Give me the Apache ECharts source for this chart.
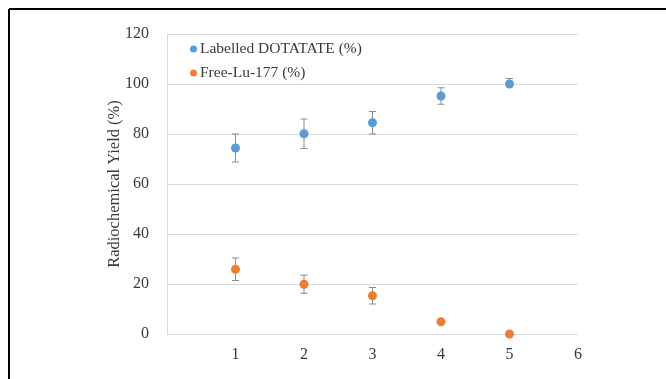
<!DOCTYPE html>
<html>
<head>
<meta charset="utf-8">
<script src="https://cdn.jsdelivr.net/npm/echarts@6/dist/echarts.min.js"></script>
<style>
  html, body { margin: 0; padding: 0; background: #fff; }
  #chart { width: 666px; height: 379px; }
</style>
</head>
<body>
<div id="chart"></div>
<script>
// data
var xValues = [1, 2, 3, 4, 5]
var labelledYield = [74.4, 80.1, 84.5, 95.2, 100]
var labelledErrUp = [5.6, 5.9, 4.5, 3.3, 2.2]
var labelledErrDown = [5.6, 5.9, 4.5, 3.3, 0]
var freeYield = [25.9, 19.9, 15.3, 4.9, 0]
var freeErrUp = [4.5, 3.6, 3.3, 0, 0]
var freeErrDown = [4.5, 3.6, 3.3, 0, 0]
var seriesNames = ['Labelled DOTATATE (%)', 'Free-Lu-177 (%)']
var colors = ['#5B9BD5', '#ED7D31']

var font = 'Liberation Serif'
var textColor = '#3a3a3a'

function points(ys) {
  return xValues.map(function (x, i) { return [x, ys[i]] })
}
function errRows(ys, up, down) {
  return xValues.map(function (x, i) { return [x, ys[i] - down[i], ys[i] + up[i], ys[i]] })
}

// whisker with caps, a cap is only drawn where that side has an error
function renderErr(params, api) {
  var x = api.value(0)
  var lo = api.coord([x, api.value(1)])
  var hi = api.coord([x, api.value(2)])
  var mid = api.coord([x, api.value(3)])
  if (Math.abs(lo[1] - hi[1]) < 1) return null
  var cap = 3.5
  var style = { stroke: '#8c8c8c', lineWidth: 1 }
  var kids = [
    { type: 'line', shape: { x1: lo[0], y1: lo[1], x2: hi[0], y2: hi[1] }, style: style }
  ]
  if (Math.abs(lo[1] - mid[1]) >= 1) {
    kids.push({ type: 'line', shape: { x1: lo[0] - cap, y1: lo[1], x2: lo[0] + cap, y2: lo[1] }, style: style })
  }
  if (Math.abs(hi[1] - mid[1]) >= 1) {
    kids.push({ type: 'line', shape: { x1: hi[0] - cap, y1: hi[1], x2: hi[0] + cap, y2: hi[1] }, style: style })
  }
  return { type: 'group', children: kids }
}

var chart = echarts.init(document.getElementById('chart'))
chart.setOption({
  animation: false,
  textStyle: { fontFamily: font },
  color: colors,
  grid: { left: 167, right: 88, top: 34, bottom: 45 },
  legend: {
    data: seriesNames,
    orient: 'vertical',
    left: 185,
    top: 36,
    itemWidth: 7,
    itemHeight: 7,
    itemGap: 8,
    icon: 'circle',
    textStyle: { fontFamily: font, fontSize: 15.5, color: textColor, padding: [0, 0, 0, -2] }
  },
  xAxis: {
    type: 'value',
    min: 0,
    max: 6,
    interval: 1,
    axisLine: { show: false },
    axisTick: { show: false },
    splitLine: { show: false },
    axisLabel: {
      fontFamily: font,
      fontSize: 16,
      color: textColor,
      margin: 13,
      formatter: function (v) { return v === 0 ? '' : v }
    }
  },
  yAxis: {
    type: 'value',
    min: 0,
    max: 120,
    interval: 20,
    name: 'Radiochemical Yield (%)',
    nameLocation: 'middle',
    nameGap: 44,
    nameMoveOverlap: false,
    nameTextStyle: { fontFamily: font, fontSize: 16.5, color: textColor },
    axisLine: { show: true, lineStyle: { color: '#d9d9d9' } },
    axisTick: { show: false },
    splitLine: { lineStyle: { color: '#d9d9d9', width: 1 } },
    axisLabel: { fontFamily: font, fontSize: 16, color: textColor, margin: 18 }
  },
  graphic: [
    { type: 'line', shape: { x1: 9, y1: 9, x2: 666, y2: 9 }, style: { stroke: '#000', lineWidth: 2 } },
    { type: 'line', shape: { x1: 9, y1: 9, x2: 9, y2: 379 }, style: { stroke: '#000', lineWidth: 2 } }
  ],
  series: [
    {
      type: 'custom',
      renderItem: renderErr,
      data: errRows(labelledYield, labelledErrUp, labelledErrDown),
      encode: { x: 0, y: [1, 2] },
      z: 1,
      silent: true
    },
    {
      type: 'custom',
      renderItem: renderErr,
      data: errRows(freeYield, freeErrUp, freeErrDown),
      encode: { x: 0, y: [1, 2] },
      z: 1,
      silent: true
    },
    {
      name: seriesNames[0],
      type: 'scatter',
      symbolSize: 9,
      itemStyle: { opacity: 1 },
      data: points(labelledYield),
      z: 3
    },
    {
      name: seriesNames[1],
      type: 'scatter',
      symbolSize: 9,
      itemStyle: { opacity: 1 },
      data: points(freeYield),
      z: 3
    }
  ]
})
</script>
</body>
</html>
